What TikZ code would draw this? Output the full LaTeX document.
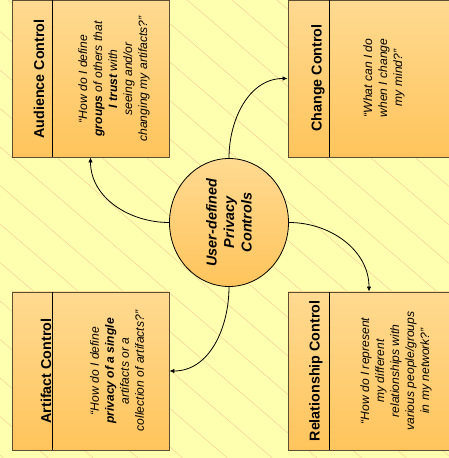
\documentclass[tikz,border=0pt]{standalone}
\usepackage{fontspec}
\setmainfont{Liberation Sans}
\usetikzlibrary{arrows.meta,shapes.geometric}
\definecolor{paper}{RGB}{255,255,176}
\definecolor{hatch}{RGB}{242,206,148}
\definecolor{boxtop}{RGB}{255,218,145}
\definecolor{boxbot}{RGB}{255,196,92}
\definecolor{edge}{RGB}{92,78,52}

\begin{document}
\begin{tikzpicture}[x=1pt,y=1pt,>={Latex[length=5pt,width=4.5pt]},
  box/.style={draw=edge,line width=0.9pt,top color=boxtop,bottom color=boxbot,inner sep=0pt,minimum height=157pt},
  ttl/.style={rotate=90,font=\fontsize{14.3}{17}\selectfont\bfseries,inner sep=0pt},
  qst/.style={rotate=90,align=center,font=\fontsize{12.1}{15}\selectfont\itshape,inner sep=0pt},
  link/.style={->,line width=0.8pt}]
\useasboundingbox (0,0) rectangle (449,458);
\fill[paper] (0,0) rectangle (449,458);
\begin{scope}
  \clip (0,0) rectangle (449,458);
  \foreach \k in {-15,...,9}
    \draw[hatch,line width=0.45pt] (0,311-38.5*\k) -- (449,311-38.5*\k-386);
\end{scope}
% the four boxes
\node[box,minimum width=157pt] (aud) at (90.5,379.5) {};
\node[box,minimum width=162pt] (chg) at (369,379.5) {};
\node[box,minimum width=157pt,minimum height=158pt] (art) at (90.5,87) {};
\node[box,minimum width=162pt,minimum height=158pt] (rel) at (369,87) {};
\draw[line width=0.8pt] ([xshift=41pt]aud.north west) -- ([xshift=41pt]aud.south west);
\draw[line width=0.8pt] ([xshift=42pt]chg.north west) -- ([xshift=42pt]chg.south west);
\draw[line width=0.8pt] ([xshift=41pt]art.north west) -- ([xshift=41pt]art.south west);
\draw[line width=0.8pt] ([xshift=42pt]rel.north west) -- ([xshift=42pt]rel.south west);
% titles and questions
\node[ttl] (audt) at (39,379) {Audience Control};
\node[ttl] (chgt) at (318,380) {Change Control};
\node[ttl] (artt) at (46,87) {Artifact Control};
\node[ttl] (relt) at (316,87) {Relationship Control};
\node[qst] (audq) at (114,379) {“How do I define\\ \textbf{groups} of others that\\ \textbf{I trust} with\\ seeing and/or\\ changing my artifacts?”};
\node[qst] (chgq) at (384,380) {“What can I do\\ when I change\\ my mind?”};
\node[qst] (artq) at (117,87) {“How do I define\\ \textbf{privacy of a single}\\ artifacts or a\\ collection of artifacts?”};
\node[qst] (relq) at (396,87) {“How do I represent\\ my different\\ relationships with\\ various people/groups\\ in my network?”};
% centre
\node[ellipse,draw,line width=0.8pt,top color=boxtop,bottom color=boxbot,inner sep=0pt,
  minimum width=119pt,minimum height=128pt] (ctr) at (229,235.5) {};
\node[rotate=90,align=center,inner sep=0pt,font=\fontsize{14.4}{17.5}\selectfont\bfseries\itshape] (ctrt) at (ctr) {User-defined\\ Privacy\\ Controls};
\draw[link] (ctr.west) to[out=180,in=-90] (aud.south);
\draw[link] (ctr.north) to[out=90,in=180] (chg.west);
\draw[link] (ctr.east) to[out=0,in=90] (rel.north);
\draw[link] (ctr.south) to[out=-90,in=0] (art.east);
\end{tikzpicture}
\end{document}
